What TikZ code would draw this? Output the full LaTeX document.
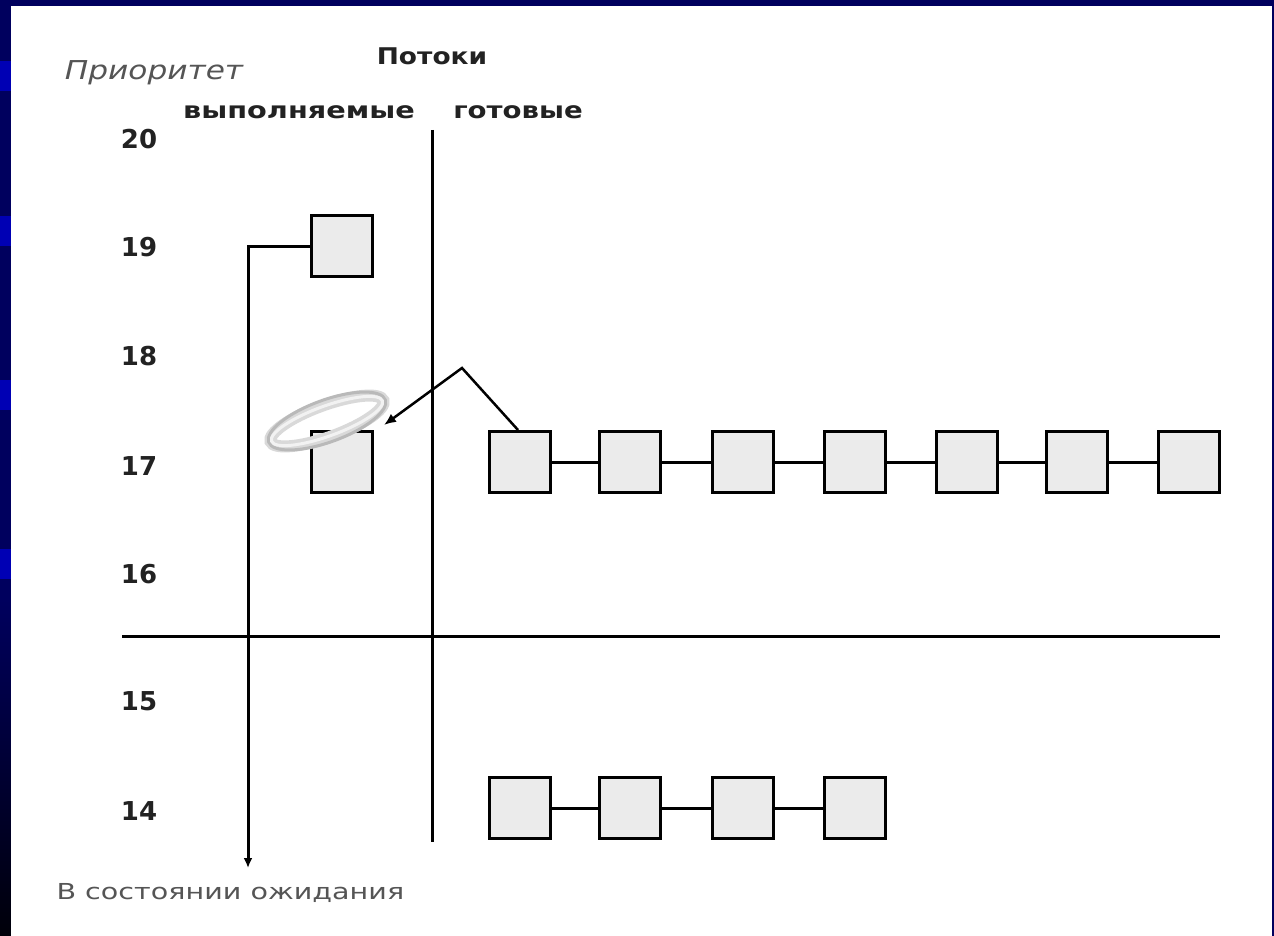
\documentclass[tikz,border=0pt]{standalone}
\usepackage{fontspec}
\setmainfont{DejaVu Sans}
\usetikzlibrary{arrows.meta}
\definecolor{navy}{HTML}{00005E}
\definecolor{stripe}{HTML}{0000B4}
\definecolor{boxgray}{HTML}{EBEBEB}
\definecolor{ink}{HTML}{222222}
\definecolor{soft}{HTML}{555555}
\tikzset{
  tbox/.style={draw=black, fill=boxgray, line width=3pt, minimum width=61pt, minimum height=61pt, inner sep=0pt},
  prio/.style={font=\fontsize{26}{26}\selectfont\bfseries, text=ink},
  head/.style={font=\fontsize{23}{23}\selectfont\bfseries, text=ink},
  link/.style={line width=3pt, draw=black},
}
\begin{document}
\begin{tikzpicture}[x=1pt,y=-1pt]
\useasboundingbox (0,0) rectangle (1274,936);
\fill[navy] (0,0) rectangle (1274,936);
\shade[top color=navy, bottom color=black!90!navy] (0,600) rectangle (11,936);
\fill[stripe] (0,61) rectangle (11,91);
\fill[stripe] (0,216) rectangle (11,246);
\fill[stripe] (0,380) rectangle (11,410);
\fill[stripe] (0,549) rectangle (11,579);
\fill[white] (11,6) rectangle (1272,936);

% headings
\node[font=\fontsize{26}{26}\selectfont\itshape, text=soft] (ptitle) at (154,73) {\scalebox{1.2}[1]{Приоритет}};
\node[head] (threads) at (432,56) {\scalebox{1.15}[1]{Потоки}};
\node[head] (run) at (299,112) {\scalebox{1.25}[1]{выполняемые}};
\node[head] (ready) at (518,112) {\scalebox{1.2}[1]{готовые}};

% priority numbers
\node[prio] (p20) at (139,139) {20};
\node[prio] (p19) at (139,247) {19};
\node[prio] (p18) at (139,356) {18};
\node[prio] (p17) at (139,466) {17};
\node[prio] (p16) at (139,574) {16};
\node[prio] (p15) at (139,701) {15};
\node[prio] (p14) at (139,811) {14};

% axes
\coordinate (vtop) at (432,130);
\coordinate (vbot) at (432,842);
\coordinate (hl) at (122,636);
\coordinate (hr) at (1220,636);
\draw[link] (vtop) -- (vbot);
\draw[link] (hl) -- (hr);

% running threads
\node[tbox] (r19) at (342,246) {};
\node[tbox] (r17) at (342,462) {};

% ready threads priority 17
\foreach \i/\x in {1/520,2/630,3/743,4/855,5/967,6/1077,7/1189}{
  \node[tbox] (a\i) at (\x,462) {};
}
\foreach \i/\j in {1/2,2/3,3/4,4/5,5/6,6/7}{
  \draw[link] (a\i.east) -- (a\j.west);
}
% ready threads priority 14
\foreach \i/\x in {1/520,2/630,3/743,4/855}{
  \node[tbox] (b\i) at (\x,808) {};
}
\foreach \i/\j in {1/2,2/3,3/4}{
  \draw[link] (b\i.east) -- (b\j.west);
}

% wait path
\coordinate (wc) at (248,246);
\coordinate (wend) at (248,868);
\draw[link, -{Latex[length=10pt,width=9pt]}] (r19.west) -- (wc) -- (wend);
\node[font=\fontsize{22}{22}\selectfont, text=soft, anchor=west] (wait) at (53,893) {\scalebox{1.3}[1]{В состоянии ожидания}};

% halo
\draw[gray!30, line width=12pt, rotate around={20:(327,421)}] (327,421) ellipse [x radius=60pt, y radius=16pt];
\draw[gray!55, line width=3pt, rotate around={20:(327,421)}] (327,421) ellipse [x radius=62pt, y radius=21pt];
\draw[gray!10, line width=3pt, rotate around={20:(327,421)}] (327,421) ellipse [x radius=59pt, y radius=15pt];

% preemption arrow
\coordinate (bend) at (462,368);
\coordinate (tip) at (384,425);
\draw[line width=2.5pt, -{Latex[length=12pt,width=10pt]}] ([xshift=-2pt]a1.north) -- (bend) -- (tip);
\end{tikzpicture}
\end{document}
